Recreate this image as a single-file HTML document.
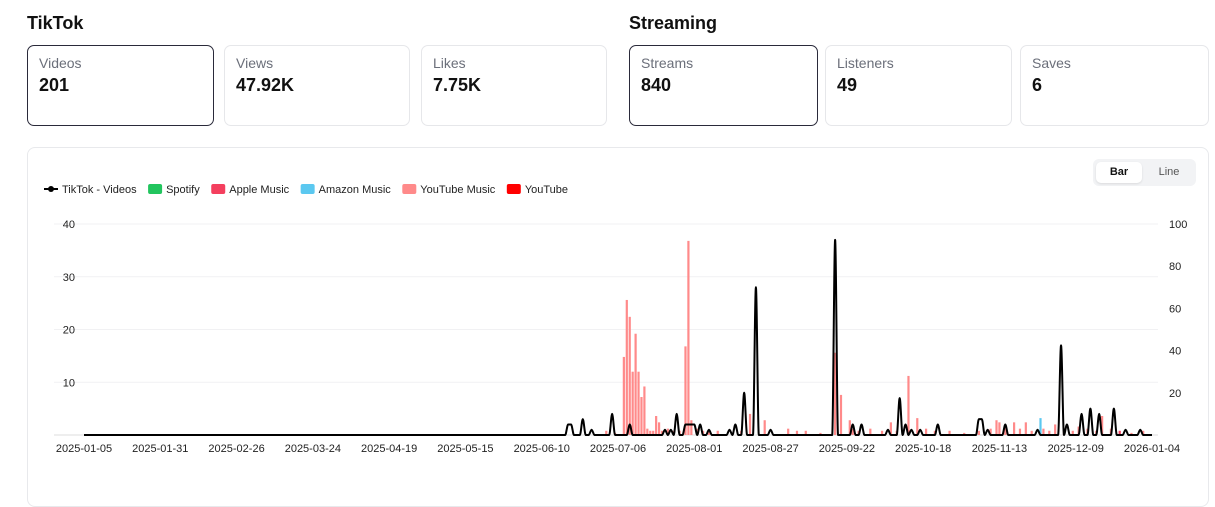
<!DOCTYPE html>
<html><head><meta charset="utf-8">
<style>
body{margin:0;width:1215px;height:477px;overflow:hidden;background:#fff;font-family:"Liberation Sans",sans-serif;color:#111}
h2{position:absolute;margin:0;font-size:18px;font-weight:700;top:13px}
.card{position:absolute;top:45px;height:81px;border:1px solid #e6e7ea;border-radius:7px;box-sizing:border-box;padding:9px 11px}
.card.sel{border:1.5px solid #2a2a3a}
.card .l{font-size:14px;color:#6b6f7a}
.card .v{font-size:18px;font-weight:700;margin-top:4px}
#chartcard{position:absolute;left:27px;top:147px;width:1182px;height:360px;border:1px solid #e8e9ec;border-radius:8px;box-sizing:border-box}
#toggle{position:absolute;left:1093px;top:159px;width:103px;height:27px;background:#f2f3f5;border-radius:6px}
#toggle div{position:absolute;top:3px;height:21px;line-height:21px;font-size:11px;text-align:center;width:46px}
</style></head><body>
<h2 style="left:27px">TikTok</h2>
<h2 style="left:629px">Streaming</h2>
<div class="card sel" style="left:27px;width:187px"><div class="l">Videos</div><div class="v">201</div></div>
<div class="card" style="left:224px;width:186px"><div class="l">Views</div><div class="v">47.92K</div></div>
<div class="card" style="left:421px;width:186px"><div class="l">Likes</div><div class="v">7.75K</div></div>
<div class="card sel" style="left:629px;width:189px"><div class="l">Streams</div><div class="v">840</div></div>
<div class="card" style="left:825px;width:187px"><div class="l">Listeners</div><div class="v">49</div></div>
<div class="card" style="left:1020px;width:189px"><div class="l">Saves</div><div class="v">6</div></div>
<div id="chartcard"></div>
<div id="toggle">
<div style="left:3px;background:#fff;border-radius:5px;font-weight:700;box-shadow:0 1px 2px rgba(0,0,0,.1)">Bar</div>
<div style="left:53px;color:#555">Line</div></div>
<svg id="chart" width="1215" height="477" style="position:absolute;left:0;top:0"></svg>
<script>
const xTickLabels=["2025-01-05","2025-01-31","2025-02-26","2025-03-24","2025-04-19","2025-05-15","2025-06-10","2025-07-06","2025-08-01","2025-08-27","2025-09-22","2025-10-18","2025-11-13","2025-12-09","2026-01-04"];
const leftTicks=[0,10,20,30,40];
const rightTicks=[20,40,60,80,100];
const videoDays=[165,166,170,173,180,186,198,200,202,205,206,207,208,210,213,220,222,225,229,234,256,262,265,274,278,280,282,285,291,305,306,308,314,325,333,335,340,343,346,351,355,360];
const videoValues=[2,2,3,1,4,2,1,1,4,2,2,2,2,2,1,1,2,8,28,1,37,2,2,1,7,2,1,1,2,3,3,1,2,1,17,2,4,5,4,5,1,1];
const streamDays=[178,181,184,185,186,187,188,189,190,191,192,193,194,195,196,197,199,201,203,205,206,207,209,211,213,216,221,224,227,232,240,243,246,251,256,258,261,262,264,268,272,275,277,281,284,287,290,295,300,305,309,311,312,314,317,319,321,323,326,327,329,331,334,337,339,342,345,347,350,353,357,361];
const streamValues=[2,1,37,64,56,30,48,30,18,23,3,2,2,9,6,2,3,2,2,42,92,7,3,2,2,2,1,2,10,7,3,2,2,1,39,19,7,3,2,3,2,6,2,28,8,3,2,2,1,2,3,7,6,4,6,3,6,2,8,3,2,5,3,2,4,3,2,9,3,2,1,2];
const streamSource=["ytm","ytm","ytm","ytm","ytm","ytm","ytm","ytm","ytm","ytm","ytm","ytm","ytm","ytm","ytm","ytm","ytm","ytm","ytm","ytm","ytm","ytm","ytm","ytm","ytm","ytm","ytm","ytm","ytm","ytm","ytm","ytm","ytm","ytm","ytm","ytm","ytm","ytm","ytm","ytm","ytm","ytm","ytm","ytm","ytm","ytm","ytm","ytm","ytm","ytm","ytm","ytm","ytm","ytm","ytm","ytm","ytm","ytm","amazon","ytm","ytm","ytm","ytm","ytm","ytm","ytm","ytm","ytm","ytm","apple","ytm","ytm"];
const legendLabels=["TikTok - Videos","Spotify","Apple Music","Amazon Music","YouTube Music","YouTube"];
const colors={spotify:"#22c55e",apple:"#f43f5e",amazon:"#5bc8f0",ytm:"#ff8a8a",yt:"#ff0000"};
const NS="http://www.w3.org/2000/svg",svg=document.getElementById("chart");
const X0=84,X1=1152,Y0=435,Y1=224;
const x=d=>X0+(X1-X0)*d/364;
const yL=v=>Y0-(Y0-Y1)*v/40;
const yR=v=>Y0-(Y0-Y1)*v/100;
function mk(t,a,txt){const e=document.createElementNS(NS,t);for(const k in a)e.setAttribute(k,a[k]);if(txt!=null)e.textContent=txt;svg.appendChild(e);return e;}
leftTicks.forEach(v=>{
 const g=mk("line",{x1:X0-30,x2:1158,y1:yL(v),y2:yL(v),stroke:v?"#f1f1f3":"#ddd","stroke-width":1});
 
 const t=mk("text",{x:75,y:yL(v)+4,"font-size":11,"text-anchor":"end",fill:"#222"},v?v:"");
 
});
rightTicks.forEach(v=>{
 const t=mk("text",{x:1169,y:yR(v)+4,"font-size":11,fill:"#222"},v);
 
});
xTickLabels.forEach((s,i)=>{
 const t=mk("text",{x:x(i*26),y:452,"font-size":11,"text-anchor":"middle",fill:"#222"},s);
 
});
streamDays.forEach((d,i)=>{
 const r=mk("rect",{x:x(d)-1.1,y:yR(streamValues[i]),width:2.2,height:Y0-yR(streamValues[i]),fill:colors[streamSource[i]]});
 
});
const daily=new Array(365).fill(0);videoDays.forEach((d,i)=>daily[d]=videoValues[i]);
const pts=daily.map((v,d)=>[x(d),yL(v)]);
const n=pts.length,dx=[],sl=[],m=[];
for(let i=0;i<n-1;i++){dx[i]=pts[i+1][0]-pts[i][0];sl[i]=(pts[i+1][1]-pts[i][1])/dx[i];}
m[0]=sl[0];m[n-1]=sl[n-2];
for(let i=1;i<n-1;i++){m[i]=sl[i-1]*sl[i]<=0?0:3*(dx[i-1]+dx[i])/((2*dx[i]+dx[i-1])/sl[i-1]+(dx[i]+2*dx[i-1])/sl[i]);}
let p="M"+pts[0][0]+","+pts[0][1];
for(let i=0;i<n-1;i++){const h=dx[i]/3;p+=`C${pts[i][0]+h},${pts[i][1]+m[i]*h} ${pts[i+1][0]-h},${pts[i+1][1]-m[i+1]*h} ${pts[i+1][0]},${pts[i+1][1]}`;}
const ln=mk("path",{d:p,fill:"none",stroke:"#000","stroke-width":2});

let lx=44;const lc=["#000",colors.spotify,colors.apple,colors.amazon,colors.ytm,colors.yt];
legendLabels.forEach((s,i)=>{
 if(i==0){mk("line",{x1:lx,x2:lx+14,y1:189,y2:189,stroke:"#000","stroke-width":2});mk("circle",{cx:lx+7,cy:189,r:3,fill:"#000"});}
 else mk("rect",{x:lx,y:184,width:14,height:10,rx:2,fill:lc[i]});
 const t=mk("text",{x:lx+18,y:193,"font-size":11,fill:"#222"},s);
 
 lx+=18+t.getComputedTextLength()+11.5;
});
</script>
</body></html>
